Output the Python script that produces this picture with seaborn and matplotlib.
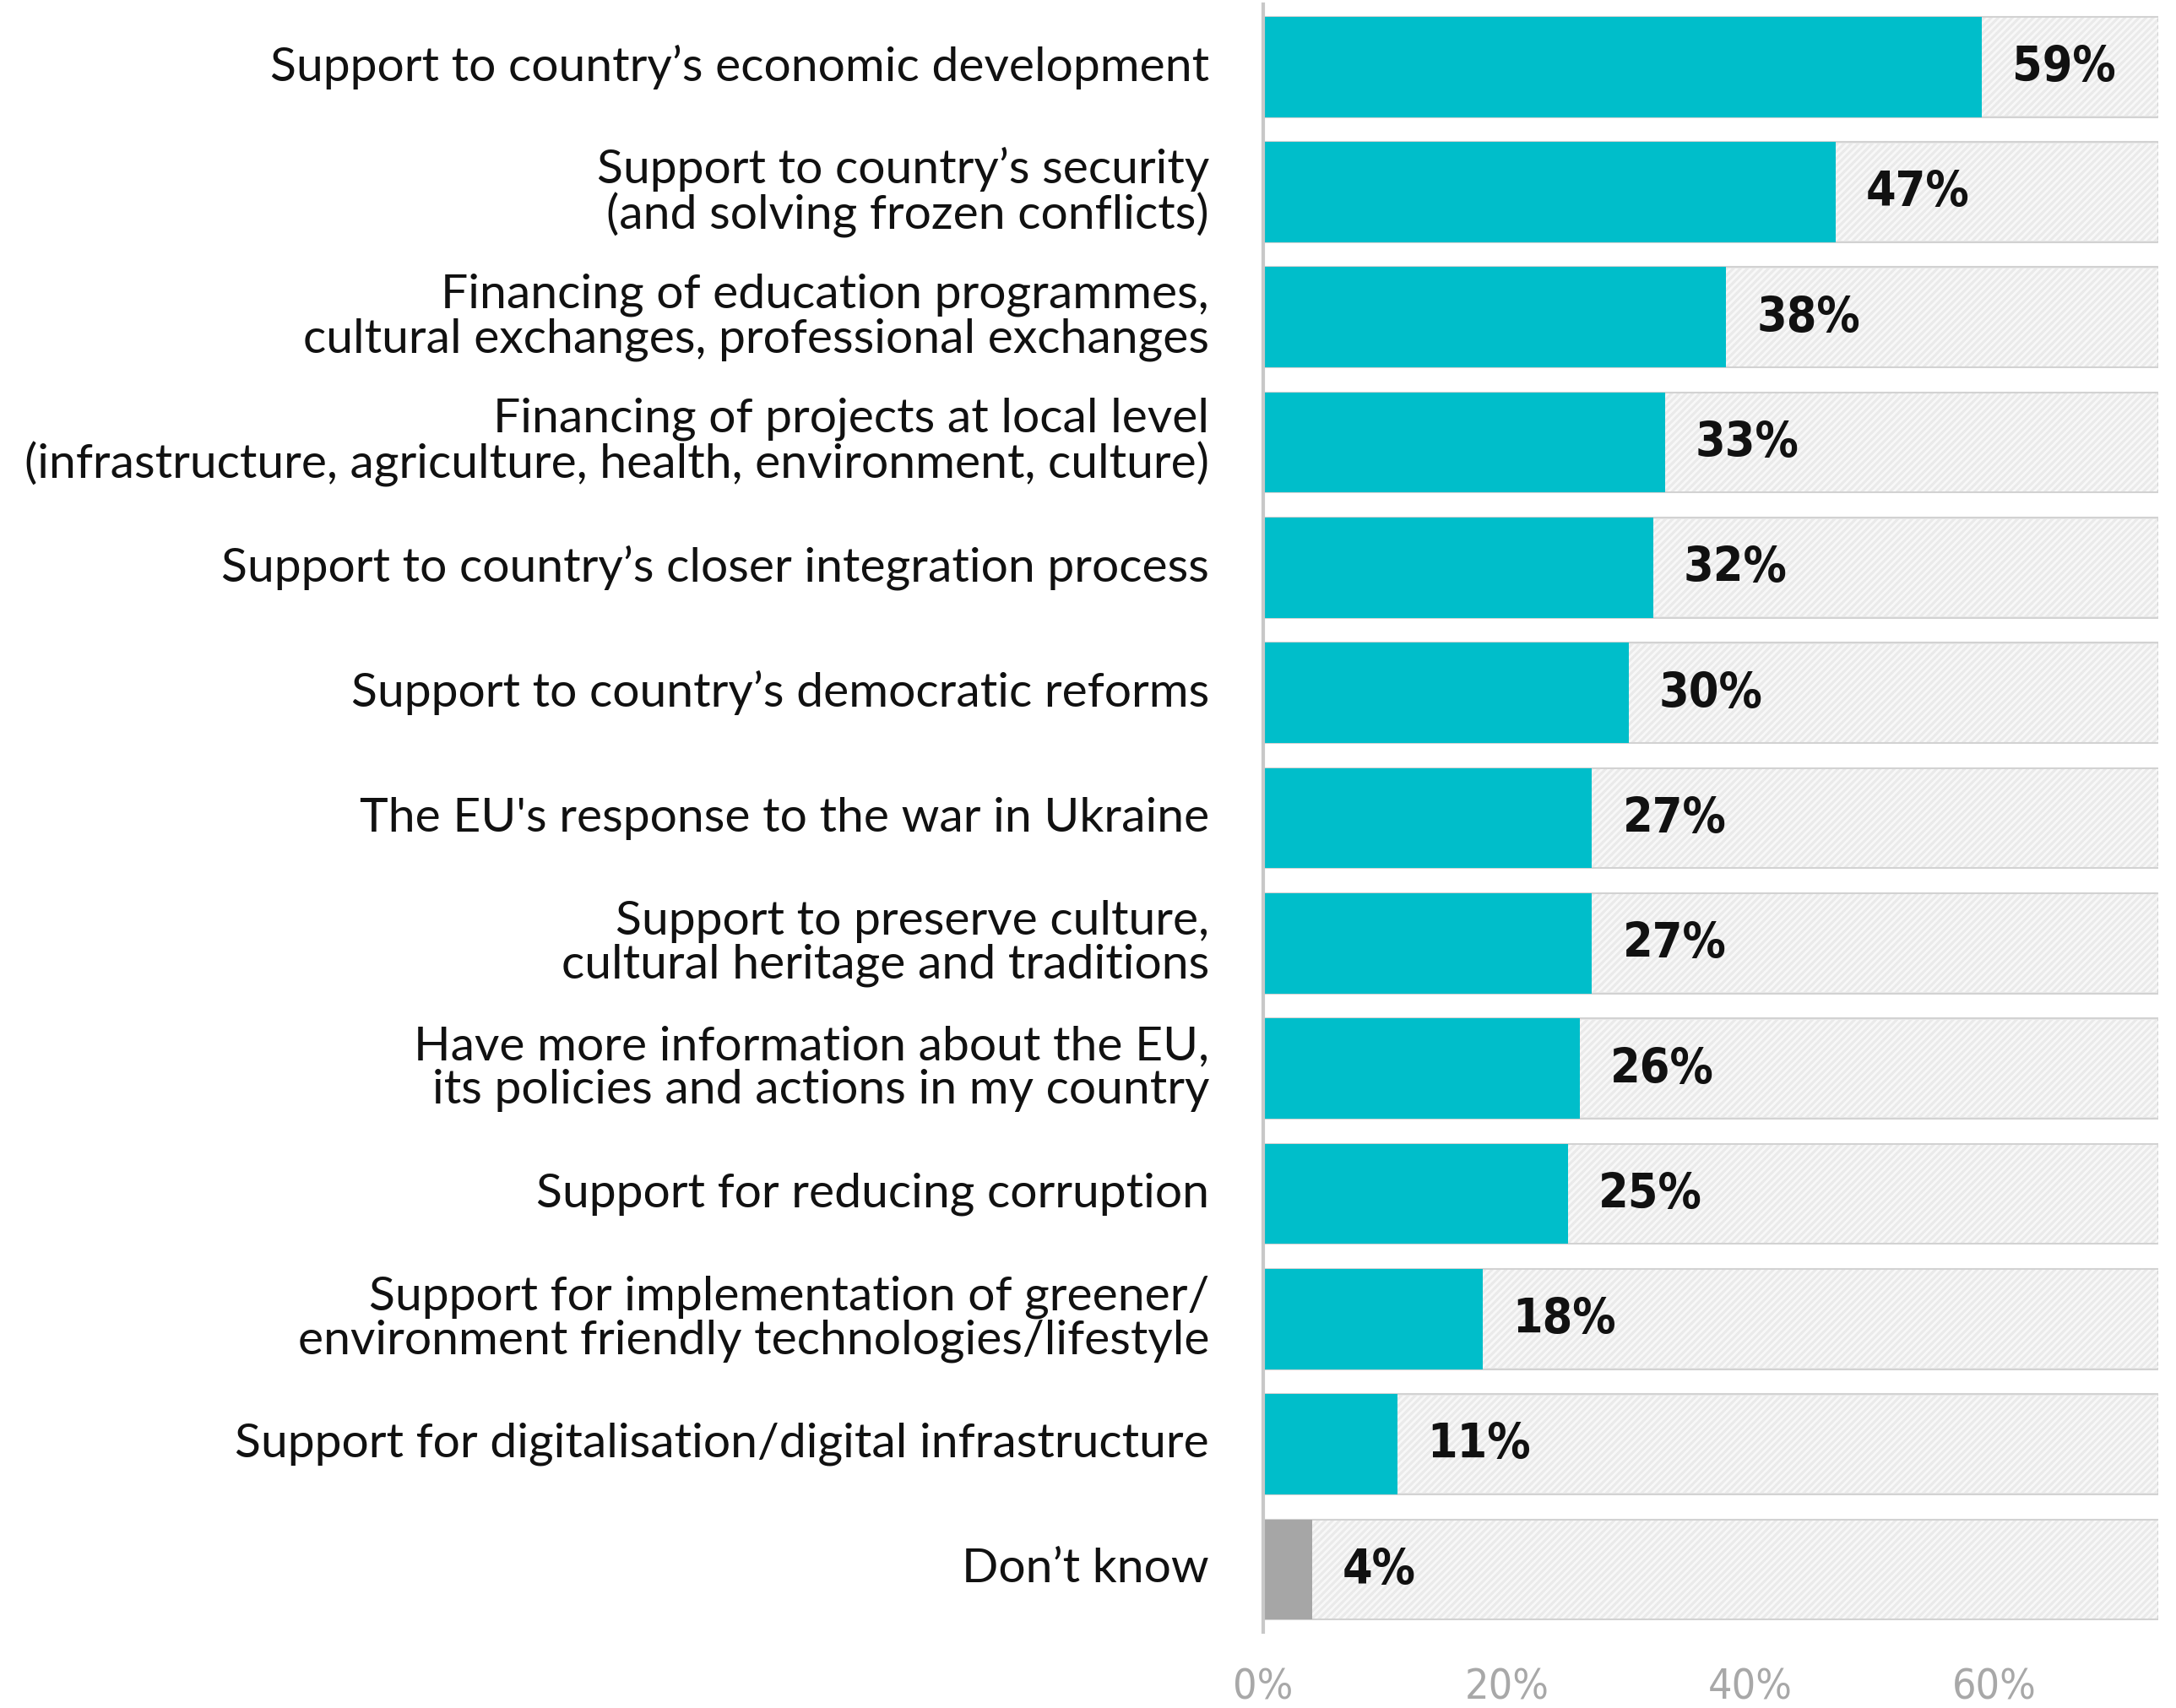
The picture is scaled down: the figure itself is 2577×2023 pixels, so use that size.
import matplotlib
matplotlib.use("Agg")
import matplotlib.pyplot as plt
import seaborn as sns
import pandas as pd
import numpy as np

categories = [
    "Support to country’s economic development",
    "Support to country’s security\n(and solving frozen conflicts)",
    "Financing of education programmes,\ncultural exchanges, professional exchanges",
    "Financing of projects at local level\n(infrastructure, agriculture, health, environment, culture)",
    "Support to country’s closer integration process",
    "Support to country’s democratic reforms",
    "The EU's response to the war in Ukraine",
    "Support to preserve culture,\ncultural heritage and traditions",
    "Have more information about the EU,\nits policies and actions in my country",
    "Support for reducing corruption",
    "Support for implementation of greener/\nenvironment friendly technologies/lifestyle",
    "Support for digitalisation/digital infrastructure",
    "Don’t know",
]
values = [59, 47, 38, 33, 32, 30, 27, 27, 26, 25, 18, 11, 4]
tick_values = [0, 20, 40, 60]
tick_labels = ["0%", "20%", "40%", "60%"]
x_max = 73.5

teal = "#00BECA"
gray = "#A6A6A6"
bar_colors = [teal] * (len(values) - 1) + [gray]

sns.set_theme(style="white")
plt.rcParams["font.family"] = ["Lato", "DejaVu Sans"]
plt.rcParams["hatch.linewidth"] = 2.0
plt.rcParams["hatch.color"] = "#f8f8f8"

fig = plt.figure(figsize=(25.77, 20.23), dpi=100)
ax = fig.add_axes([0.5805, 0.0445, 0.9919 - 0.5805, 0.9975 - 0.0445])

df = pd.DataFrame({"category": categories, "value": values,
                   "bg": [x_max] * len(values)})

# background track
sns.barplot(data=df, x="bg", y="category", orient="h", color="#EAEAEA",
            saturation=1, width=0.8, ax=ax, edgecolor="#D2D2D2", linewidth=1.5)
# hatch overlay
sns.barplot(data=df, x="bg", y="category", orient="h", color="#EAEAEA",
            saturation=1, width=0.78, ax=ax, linewidth=0)
for p in ax.patches[len(values):]:
    p.set_facecolor("none")
    p.set_hatch("////")
    p.set_edgecolor("#f8f8f8")
    p.set_linewidth(0)

sns.barplot(data=df, x="value", y="category", orient="h", hue="category",
            palette=bar_colors, saturation=1, width=0.8, ax=ax, legend=False,
            linewidth=0)

for i, v in enumerate(values):
    ax.annotate(f"{v}%", xy=(v, i), xytext=(26, -1), textcoords="offset points",
                ha="left", va="center", fontsize=41, fontweight="bold",
                family="DejaVu Sans", stretch="condensed", color="#111111")

ax.set_xlim(0, x_max)
ax.set_ylim(len(values) - 0.5, -0.5)
ax.set_xticks(tick_values)
ax.set_xticklabels(tick_labels, fontsize=36, color="#A8A8A8",
                   family="DejaVu Sans", stretch="condensed")
ax.tick_params(axis="x", length=0, pad=30)
ax.tick_params(axis="y", length=0, pad=46)
ax.set_yticks(range(len(categories)))
ax.set_yticklabels(categories, fontsize=41, color="#111111", fontweight="normal",
                   linespacing=1.02, va="center")
for lbl in ax.get_yticklabels():
    lbl.set_y(lbl.get_position()[1])
ax.set_xlabel("")
ax.set_ylabel("")
for s in ["top", "right", "bottom"]:
    ax.spines[s].set_visible(False)
ax.spines["left"].set_color("#C8C8C8")
ax.spines["left"].set_linewidth(3)

fig.savefig("out.png", dpi=100, facecolor="white")
